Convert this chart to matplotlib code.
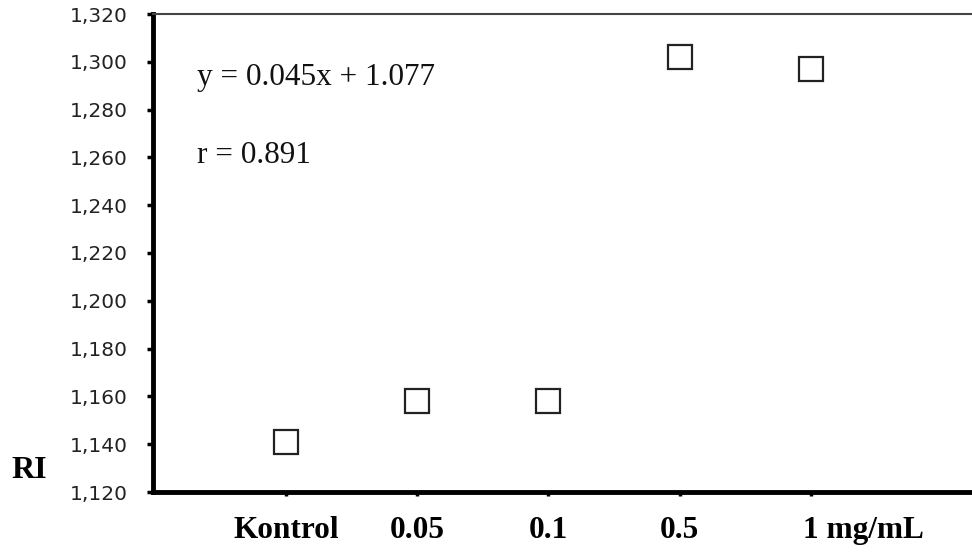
import matplotlib.pyplot as plt
from matplotlib.ticker import FuncFormatter

# values
doses = ["Kontrol", "0.05", "0.1", "0.5", "1 mg/mL"]
ri = [1.141, 1.158, 1.158, 1.302, 1.297]
y_ticks = [1.12, 1.14, 1.16, 1.18, 1.20, 1.22, 1.24, 1.26, 1.28, 1.30, 1.32]
equation = "y = 0.045x + 1.077"
r_text = "r = 0.891"

fig = plt.figure(figsize=(9.72, 5.56), dpi=100)
ax = fig.add_axes([153 / 972, 64 / 556, 819 / 972, 478 / 556])

xs = list(range(len(doses)))
ax.plot(xs, ri, linestyle="none", marker="s", markersize=17,
        markerfacecolor="white", markeredgecolor="#222222", markeredgewidth=1.6,
        clip_on=False)

ax.set_xlim(-1.015, 5.23)
ax.set_ylim(1.12, 1.32)
ax.set_yticks(y_ticks)
ax.yaxis.set_major_formatter(FuncFormatter(lambda v, p: f"{v:.3f}".replace(".", ",")))
ax.set_xticks(xs)
# the last label starts under its tick, so it is drawn separately
ax.set_xticklabels(doses[:-1] + [""], family="Liberation Serif", fontweight="bold", fontsize=22.5)
ax.annotate(doses[-1], xy=(xs[-1], 0), xycoords=("data", "axes fraction"),
            xytext=(-5.5, -17), textcoords="offset points", ha="left", va="top",
            family="Liberation Serif", fontweight="bold", fontsize=22.5)

for lab in ax.get_yticklabels():
    lab.set_fontfamily("DejaVu Sans")
    lab.set_fontsize(14.5)
    lab.set_color("#222222")

ax.tick_params(axis="y", direction="out", length=4.5, width=2.5, pad=13.5)
ax.tick_params(axis="x", direction="out", length=3, width=2.5, pad=14)

ax.spines["left"].set_linewidth(3.5)
ax.spines["bottom"].set_linewidth(3.5)
ax.spines["top"].set_linewidth(1.5)
ax.spines["top"].set_color("#444444")
ax.spines["right"].set_visible(False)

ax.text(-0.678, 1.2936, equation, family="Liberation Serif", fontsize=22.5,
        ha="left", va="center", color="#111111")
ax.text(-0.678, 1.261, r_text, family="Liberation Serif", fontsize=22.5,
        ha="left", va="center", color="#111111")

fig.text(29 / 972, 1 - 471 / 556, "RI", family="Liberation Serif", fontweight="bold",
         fontsize=23, ha="center", va="center")

fig.savefig("out.png", dpi=100)
